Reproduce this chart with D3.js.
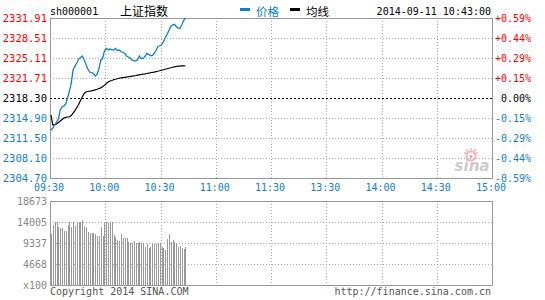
<!DOCTYPE html>
<html><head><meta charset="utf-8">
<script src="https://cdn.jsdelivr.net/npm/d3@7"></script>
<style>
html,body{margin:0;padding:0;background:#fff;}
svg{display:block;}
text{font-family:"DejaVu Sans Mono","Liberation Mono",monospace;font-size:10px;}
</style></head>
<body>
<svg id="chart" width="545" height="300"></svg>
<script>
// ---- data ----
const timeLabels = ["09:30","10:00","10:30","11:00","11:30","13:30","14:00","14:30","15:00"];
const timeTickMinutes = [0,30,60,90,120,150,180,210,240];
const priceTicks = [2331.91,2328.51,2325.11,2321.71,2318.30,2314.90,2311.50,2308.10,2304.70];
const pctLabels = ["+0.59%","+0.44%","+0.29%","+0.15%","0.00%","-0.15%","-0.29%","-0.44%","-0.59%"];
const volTicks = [18673,14005,9337,4668,0];
const prevClose = 2318.30;

// price per minute from 09:30 to 10:43
const price = [2312.86,2313.20,2313.71,2314.22,2314.73,2316.26,2316.77,2316.94,2317.28,2318.30,
2319.49,2320.85,2323.06,2323.74,2324.25,2324.93,2325.19,2325.44,2324.76,2324.00,
2323.23,2322.72,2322.64,2322.50,2322.04,2322.33,2323.23,2324.76,2325.02,2326.29,
2326.75,2326.46,2326.63,2326.55,2326.46,2326.72,2326.38,2326.46,2326.21,2326.04,
2325.90,2325.44,2325.27,2325.10,2324.76,2324.68,2324.59,2324.85,2325.44,2325.02,
2325.05,2325.36,2325.90,2325.73,2325.53,2325.50,2325.87,2326.38,2327.06,2327.19,
2327.31,2327.82,2328.50,2329.10,2329.78,2330.46,2330.71,2330.83,2330.46,2330.20,
2330.15,2330.71,2331.48,2331.91];
// average price per minute
const avgPrice = [2315.41,2313.71,2313.79,2313.88,2314.13,2314.39,2314.64,2314.90,2315.02,2315.07,
2315.12,2315.32,2315.75,2316.17,2316.68,2317.19,2317.87,2318.47,2319.07,2319.32,
2319.41,2319.49,2319.52,2319.61,2319.69,2319.80,2319.92,2320.03,2320.20,2320.46,
2320.77,2321.02,2321.19,2321.28,2321.40,2321.50,2321.58,2321.67,2321.72,2321.77,
2321.82,2321.87,2321.92,2321.97,2322.02,2322.08,2322.13,2322.19,2322.25,2322.30,
2322.35,2322.40,2322.47,2322.53,2322.60,2322.67,2322.72,2322.79,2322.86,2322.94,
2323.03,2323.11,2323.20,2323.28,2323.37,2323.45,2323.54,2323.61,2323.66,2323.71,
2323.74,2323.76,2323.78,2323.79];
// volume per minute (x100)
const volume = [11337,13338,13931,13931,12967,12597,12597,12079,12079,13338,
13931,12967,13931,13116,13931,13931,13931,14450,13116,12967,
11857,11634,11486,11634,11263,10967,10967,12819,10967,13708,
13931,13708,13931,13931,11115,10745,10004,9856,11337,10523,
10374,10374,9633,9411,9411,9781,9411,9411,9633,9411,
9262,8522,9114,8151,8522,9262,9114,9114,
9114,9262,8373,8151,7781,10152,11337,9485,10004,9633,9262,8522,8670,8151,7900,8373];

// ---- colors ----
const RED = "#ff0000", BLUE = "#1080cc", BLACK = "#000", GRID = "#aaa", FRAME = "#999", VGRAY = "#888";

const svg = d3.select("#chart");
svg.append("rect").attr("width",545).attr("height",300).attr("fill","#fff");

const L = 50, R = 492, T = 18, B = 178, VT = 201, VB = 285;
const x = d3.scaleLinear().domain([0,240]).range([L,R]);
const y = d3.scaleLinear().domain([2304.70,2331.91]).range([B,T]);
const yv = d3.scaleLinear().domain([0,18673]).range([VB,VT]);
const cx = v => Math.round(x(v)) + 0.5;
const cy = v => Math.round(y(v)) + 0.5;
const cyv = v => Math.round(yv(v)) + 0.5;

// ---- grids ----
const grid = svg.append("g").attr("fill","none").attr("stroke",GRID).attr("stroke-width",1).attr("stroke-dasharray","1,2");
timeTickMinutes.slice(1,-1).forEach(m=>{
  grid.append("line").attr("x1",cx(m)).attr("x2",cx(m)).attr("y1",T).attr("y2",B);
  grid.append("line").attr("x1",cx(m)).attr("x2",cx(m)).attr("y1",VT).attr("y2",VB);
});
priceTicks.slice(1,-1).forEach(p=>{
  if (p === prevClose) return;
  grid.append("line").attr("x1",L).attr("x2",R).attr("y1",cy(p)).attr("y2",cy(p));
});
volTicks.slice(1,-1).forEach(v=>{
  grid.append("line").attr("x1",L).attr("x2",R).attr("y1",cyv(v)).attr("y2",cyv(v));
});

// ---- volume bars ----
svg.append("g").attr("fill","#999").attr("shape-rendering","crispEdges").selectAll("rect").data(volume).join("rect")
  .attr("x",(d,i)=>Math.round(x(i))+1)
  .attr("width",1)
  .attr("y",d=>Math.round(yv(d)))
  .attr("height",d=>VB - Math.round(yv(d)));

// ---- frames ----
svg.append("rect").attr("x",L+0.5).attr("y",T+0.5).attr("width",R-L).attr("height",B-T)
  .attr("fill","none").attr("stroke",FRAME);
svg.append("rect").attr("x",L+0.5).attr("y",VT+0.5).attr("width",R-L).attr("height",VB-VT)
  .attr("fill","none").attr("stroke",FRAME);

// prev close line
svg.append("line").attr("x1",L).attr("x2",R).attr("y1",cy(prevClose)).attr("y2",cy(prevClose))
  .attr("stroke",BLACK).attr("stroke-dasharray","2,2");

// ---- sina watermark ----
const wm = svg.append("g").attr("opacity",0.85);
wm.append("circle").attr("cx",471).attr("cy",156).attr("r",4.5).attr("fill","none").attr("stroke","#f5a5a5").attr("stroke-width",2);
wm.append("circle").attr("cx",471).attr("cy",156.5).attr("r",1.6).attr("fill","#aaa");
[[-6,-3],[ -4,-6],[0,-7],[4,-6],[6,-3]].forEach(([dx,dy])=>{
  wm.append("line").attr("x1",471+dx*0.75).attr("y1",156+dy*0.75).attr("x2",471+dx*1.15).attr("y2",156+dy*1.15)
    .attr("stroke","#f5a5a5").attr("stroke-width",1.5);
});
wm.append("text").attr("x",472).attr("y",171).attr("text-anchor","middle")
  .style("font-family","'DejaVu Sans',sans-serif").style("font-size","15px").style("font-style","italic").style("font-weight","bold")
  .attr("fill","#c4c4c4").text("sina");

// ---- lines ----
const line = d3.line().x((d,i)=>x(i)+1).y(d=>y(d));
svg.append("path").datum(avgPrice).attr("d",line).attr("fill","none").attr("stroke",BLACK).attr("stroke-width",1.2);
svg.append("path").datum(price).attr("d",line).attr("fill","none").attr("stroke",BLUE).attr("stroke-width",1.3);

// ---- axes (labels) ----
const colorFor = v => v > prevClose ? RED : (v < prevClose ? BLUE : BLACK);

const ay = svg.append("g").attr("transform",`translate(${L},0)`)
  .call(d3.axisLeft(y).tickValues(priceTicks).tickFormat(d=>d.toFixed(2)).tickSize(0).tickPadding(3));
ay.select(".domain").remove();
ay.selectAll("text").attr("fill",d=>colorFor(d)).style("font-size","10.5px");

const ar = svg.append("g").attr("transform",`translate(${R},0)`)
  .call(d3.axisRight(y).tickValues(priceTicks).tickFormat((d,i)=>pctLabels[i]).tickSize(0));
ar.select(".domain").remove();
ar.selectAll("text").attr("fill",d=>colorFor(d)).attr("text-anchor","end").attr("x",39);

const ax = svg.append("g").attr("transform",`translate(-1.5,${B})`)
  .call(d3.axisBottom(x).tickValues(timeTickMinutes).tickFormat((d,i)=>timeLabels[i]).tickSize(0).tickPadding(6));
ax.select(".domain").remove();
ax.selectAll("text").attr("fill",BLUE);

const av = svg.append("g").attr("transform",`translate(${L},0)`)
  .call(d3.axisLeft(yv).tickValues(volTicks).tickFormat(d=>d===0?"x100":String(d)).tickSize(0).tickPadding(3));
av.select(".domain").remove();
av.selectAll("text").attr("fill",VGRAY);

// ---- header ----
svg.append("text").attr("x",50).attr("y",15).attr("fill","#000").text("sh000001");
svg.append("text").attr("x",120).attr("y",16).attr("fill","#000")
  .style("font-family","'Noto Sans CJK SC',sans-serif").style("font-size","12px").text("上证指数");
svg.append("rect").attr("x",240).attr("y",8).attr("width",10).attr("height",3).attr("fill",BLUE);
svg.append("text").attr("x",256).attr("y",16).attr("fill",BLUE)
  .style("font-family","'Noto Sans CJK SC',sans-serif").style("font-size","11.5px").text("价格");
svg.append("rect").attr("x",290).attr("y",8).attr("width",10).attr("height",3).attr("fill",BLACK);
svg.append("text").attr("x",306).attr("y",16).attr("fill",BLACK)
  .style("font-family","'Noto Sans CJK SC',sans-serif").style("font-size","11.5px").text("均线");
svg.append("text").attr("x",491).attr("y",15).attr("text-anchor","end").attr("fill","#000").text("2014-09-11 10:43:00");

// ---- footer ----
svg.append("text").attr("x",50).attr("y",295).attr("fill","#555").text("Copyright 2014 SINA.COM");
svg.append("text").attr("x",491).attr("y",295).attr("text-anchor","end").attr("fill","#555").text("http://finance.sina.com.cn");
</script>
</body></html>
